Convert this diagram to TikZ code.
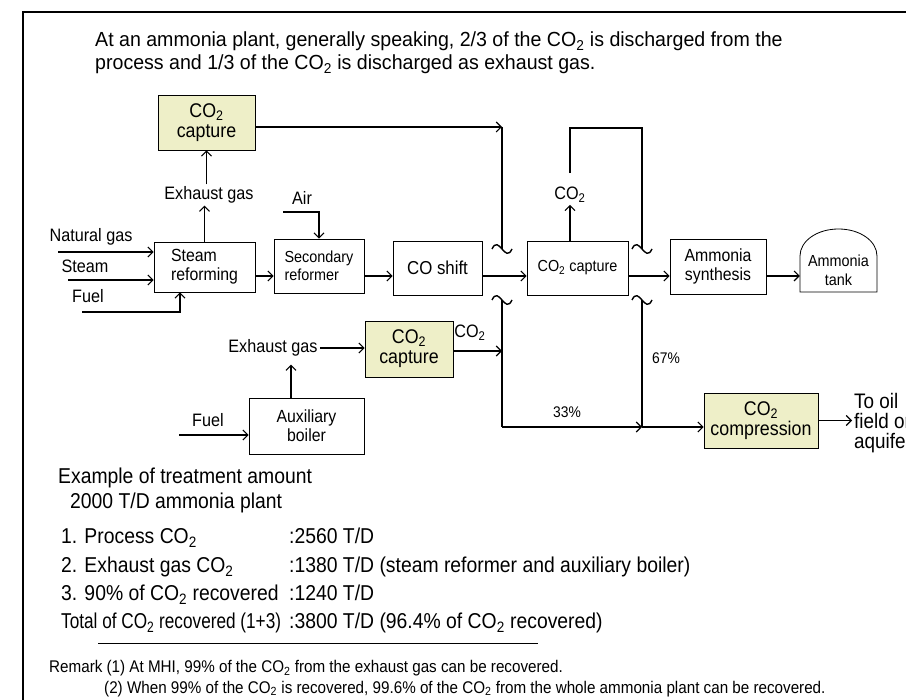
\documentclass[tikz,border=0pt]{standalone}
\usepackage{fontspec}
\setmainfont{Liberation Sans}[FakeStretch=0.9]
\newfontfamily\narrowfont{Liberation Sans}[FakeStretch=0.8]
\newfontfamily\headfont{Liberation Sans}[FakeStretch=0.96]
\usetikzlibrary{arrows.meta}
\definecolor{capfill}{RGB}{238,239,200}
\newcommand{\cotwo}{CO\textsubscript{2}}

\begin{document}
\begin{tikzpicture}[x=1pt,y=-1pt,
  box/.style={draw,line width=0.8pt,inner sep=1pt,align=center,font=\fontsize{17.6}{19}\selectfont},
  capbox/.style={box,fill=capfill,font=\fontsize{19.8}{20}\selectfont},
  lbl/.style={inner sep=2pt,font=\fontsize{18}{20}\selectfont},
  txt/.style={inner sep=0pt,anchor=base west,font=\fontsize{21.5}{22}\selectfont},
  arr/.style={-{Straight Barb[length=5pt,width=10pt]},line width=1.1pt},
  pipe/.style={line width=1.1pt}]

\useasboundingbox (0,0) rectangle (906,700);
\clip (0,0) rectangle (906,700);
\draw[line width=1.6pt] (23,12) rectangle (940,740);

% title
\node[inner sep=0pt,anchor=north west,align=left,font=\headfont\fontsize{20.4}{23}\selectfont] (head) at (95,32)
  {At an ammonia plant, generally speaking, 2/3 of the \cotwo{} is discharged from the\\process and 1/3 of the \cotwo{} is discharged as exhaust gas.};

% boxes
\node[capbox,minimum width=97pt,minimum height=55pt] (capA) at (206.5,122.5) {\cotwo\\capture};
\node[box,align=left,minimum width=101pt,minimum height=50pt] (reform) at (204.5,267) {Steam\\reforming};
\node[box,align=left,minimum width=90pt,minimum height=54pt,font=\fontsize{16}{18}\selectfont] (second) at (319,266) {Secondary\\reformer};
\node[box,minimum width=89pt,minimum height=54pt,font=\fontsize{18.7}{20}\selectfont] (shift) at (437.5,268) {CO shift};
\node[box,minimum width=101pt,minimum height=54pt,font=\fontsize{16}{18}\selectfont] (capB) at (577.5,268) {\cotwo{} capture};
\node[box,minimum width=96pt,minimum height=55pt] (synth) at (718,266.5) {Ammonia\\synthesis};
\node[inner sep=0pt,align=center,minimum width=77pt,minimum height=44pt,font=\fontsize{16}{19}\selectfont] (tank) at (838.5,270) {Ammonia\\tank};
\draw[line width=0.8pt] (800,292) -- (800,256) .. controls (800,241) and (817,229) .. (838.5,229)
  .. controls (860,229) and (877,241) .. (877,256) -- (877,292) -- cycle;

\node[capbox,minimum width=88pt,minimum height=56pt] (capC) at (409,349) {\cotwo\\capture};
\node[box,minimum width=115pt,minimum height=56pt] (boiler) at (306.5,426) {Auxiliary\\boiler};
\node[capbox,minimum width=114pt,minimum height=55pt] (compr) at (761,420.5) {\cotwo\\compression};

% labels
\node[lbl] (exhA) at (209,195) {Exhaust gas};
\node[lbl] (air) at (302,198) {Air};
\node[lbl] (natgas) at (91,237) {Natural gas};
\node[lbl] (steam) at (85,266) {Steam};
\node[lbl] (fuelA) at (88,296) {Fuel};
\node[lbl] (co2up) at (570,195) {\cotwo};
\node[lbl] (exhB) at (273,348) {Exhaust gas};
\node[lbl] (co2out) at (470,333) {\cotwo};
\node[lbl] (fuelB) at (208,420) {Fuel};
\node[lbl,font=\fontsize{15.4}{16}\selectfont] (pc33) at (567,412) {33\%};
\node[lbl,font=\fontsize{15.4}{16}\selectfont] (pc67) at (666,358) {67\%};
\node[lbl,align=left,anchor=west,font=\fontsize{21}{20}\selectfont] (oil) at (852,423) {To oil\\field or\\aquifer};

\coordinate (flow) at (0,276);
\coordinate (cA) at (502,127);
\coordinate (cB) at (642,128);
\coordinate (t1) at (502,249);
\coordinate (t2) at (502,300);
\coordinate (t3) at (642,249);
\coordinate (t4) at (642,300);
\coordinate (jA) at (502,351);
\coordinate (jB) at (502,427);
\coordinate (jC) at (642,427);
\coordinate (ngIn) at (58,252);
\coordinate (stIn) at (68,280);
\coordinate (fuIn) at (82,312);
\coordinate (fuBIn) at (179,435);
\coordinate (airIn) at (283,212);

% feeds
\draw[arr] (ngIn) -- (ngIn -| reform.west);
\draw[arr] (stIn) -- (stIn -| reform.west);
\draw[arr] (fuIn) -| ([xshift=-24.5pt]reform.south);
\draw[arr] (airIn) -| (second.north);

% main line
\draw[arr] (reform.east |- flow) -- (second.west |- flow);
\draw[arr] (second.east |- flow) -- (shift.west |- flow);
\draw[arr] (shift.east |- flow) -- (capB.west |- flow);
\draw[arr] (capB.east |- flow) -- (synth.west |- flow);
\draw[arr] (synth.east |- flow) -- (tank.west |- flow);

% exhaust gas of reformer
\draw[arr] (reform.north) -- (reform.north |- exhA.south);
\draw[arr] (exhA.north -| capA.south) -- (capA.south);
\draw[arr] (capA.east |- cA) -- (cA);
\draw[pipe] (cA) -- (t1);

% process co2
\draw[arr] (co2up.south |- capB.north) -- (co2up.south);
\draw[pipe] ([yshift=12pt]co2up.north) |- (cB) -- (t3);

% auxiliary boiler
\draw[arr] (fuBIn) -- (fuBIn -| boiler.west);
\draw[arr] ([xshift=-15.5pt]boiler.north) -- ++(0,-33);
\draw[arr] (exhB.east) -- (capC.west |- exhB.east);
\draw[arr] (capC.east |- jA) -- (jA);

% to compression
\draw[pipe] (t2) -- (jB);
\draw[arr] (jB) -- (jC);
\draw[pipe] (t4) -- (jC);
\draw[arr] (jC) -- (compr.west |- jC);
\draw[arr] (compr.east) -- (oil.west |- compr.east);

% breaks
\foreach \t in {t1,t2,t3,t4}
  \draw[pipe,line width=1.4pt] ([xshift=-10pt]\t) .. controls ([xshift=-3pt,yshift=15pt]\t) and ([xshift=3pt,yshift=-15pt]\t) .. ([xshift=10pt]\t);

% amounts
\node[txt] (amt1) at (58,484) {Example of treatment amount};
\node[txt] (amt2) at (70,509) {2000 T/D ammonia plant};
\node[txt] (it1) at (61,544) {1. Process \cotwo};
\node[txt] (va1) at (289,544) {:2560 T/D};
\node[txt] (it2) at (61,573) {2. Exhaust gas \cotwo};
\node[txt] (va2) at (289,573) {:1380 T/D (steam reformer and auxiliary boiler)};
\node[txt] (it3) at (61,601) {3. 90\% of \cotwo{} recovered};
\node[txt] (va3) at (289,601) {:1240 T/D};
\node[txt,font=\narrowfont\fontsize{21.5}{22}\selectfont] (it4) at (61,629) {Total of \cotwo{} recovered (1+3)};
\node[txt] (va4) at (289,629) {:3800 T/D (96.4\% of \cotwo{} recovered)};
\draw[line width=0.8pt] (98,643) -- (538,643);
\node[txt,font=\fontsize{16.9}{18}\selectfont] (rem1) at (49,673) {Remark (1) At MHI, 99\% of the \cotwo{} from the exhaust gas can be recovered.};
\node[txt,font=\fontsize{16.9}{18}\selectfont] (rem2) at (104,693) {(2) When 99\% of the \cotwo{} is recovered, 99.6\% of the \cotwo{} from the whole ammonia plant can be recovered.};

\end{tikzpicture}
\end{document}
